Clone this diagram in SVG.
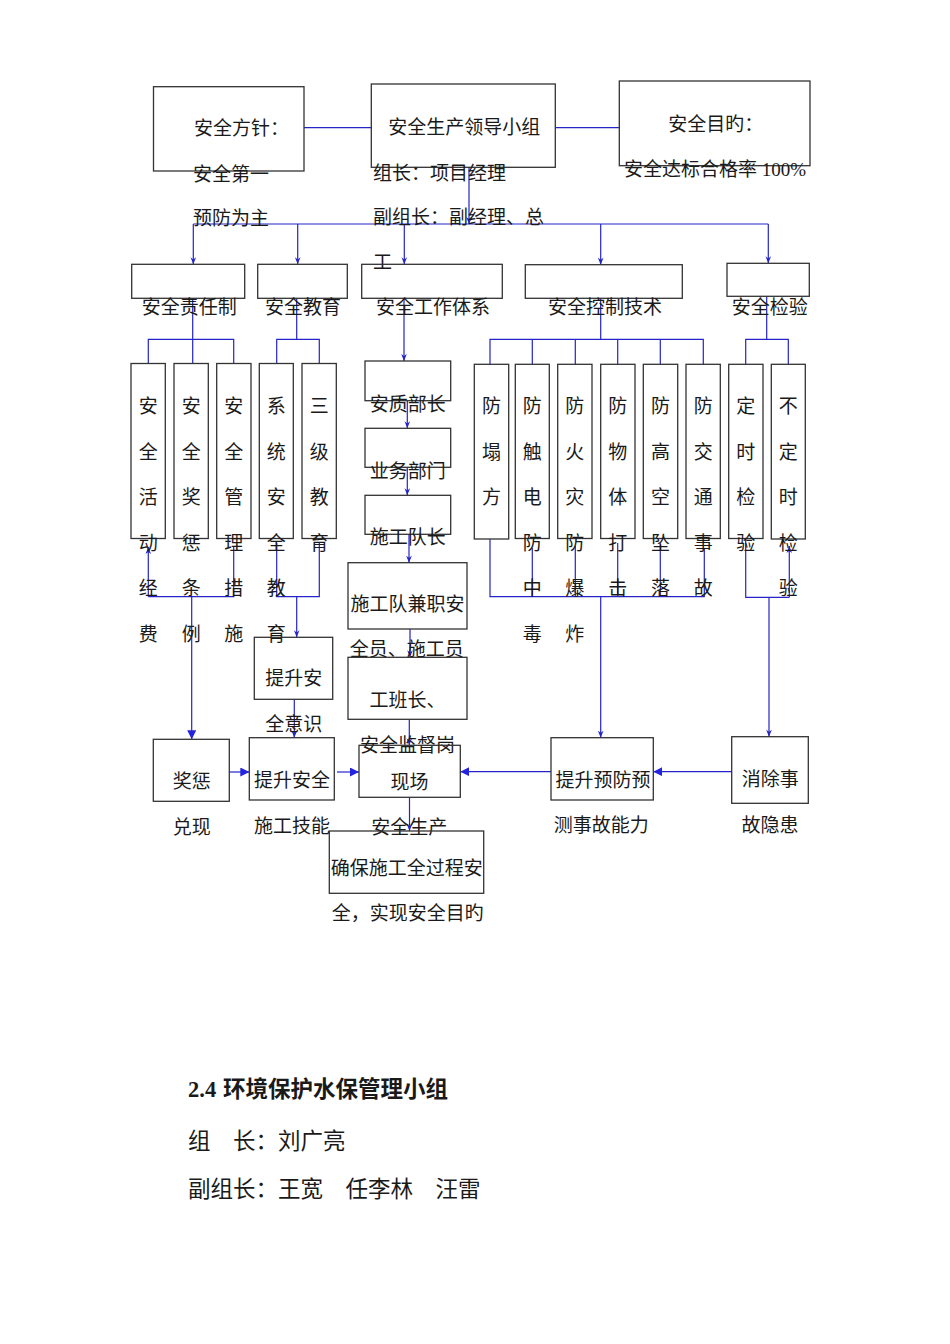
<svg xmlns="http://www.w3.org/2000/svg" width="950" height="1344" viewBox="0 0 950 1344">
<style>
.t{font-family:'Liberation Serif','Noto Sans CJK SC',serif;font-size:19px;fill:#1a1a1a}
.m{text-anchor:middle}
.b{fill:none;stroke:#333;stroke-width:1.3}
.c{fill:none;stroke:#2424c8;stroke-width:1.2}
.h{font-family:'Liberation Serif','Noto Sans CJK SC',serif;font-size:22.5px;fill:#1a1a1a}
</style>
<defs>
<marker id="v" viewBox="0 0 10 10" refX="10" refY="5" markerWidth="8" markerHeight="7" orient="auto" markerUnits="userSpaceOnUse"><path d="M0,1 L10,5 L0,9 L3,5 z" fill="#2424c8"/></marker>
<marker id="f" viewBox="0 0 10 10" refX="10" refY="5" markerWidth="9" markerHeight="9" orient="auto" markerUnits="userSpaceOnUse"><path d="M0,0 L10,5 L0,10 z" fill="#2424e0"/></marker>
</defs>
<rect width="950" height="1344" fill="#fff"/>

<g id="connectors">
<path class="c" d="M304,127.7 H371.3 M555.3,127.7 H619.3"/>
<path class="c" d="M469,167.3 V224" marker-end="url(#v)"/>
<path class="c" d="M193.3,224 H768.3"/>
<path class="c" d="M193.3,224 V264.3" marker-end="url(#v)"/>
<path class="c" d="M297.7,224 V264.3" marker-end="url(#v)"/>
<path class="c" d="M404.3,224 V264.3" marker-end="url(#v)"/>
<path class="c" d="M600.7,224 V264.7" marker-end="url(#v)"/>
<path class="c" d="M768.3,224 V263.3" marker-end="url(#v)"/>
<!-- left top brackets -->
<path class="c" d="M192.7,298.3 V363.5 M148.3,363.5 V339.3 H233.7 V363.5"/>
<path class="c" d="M296.7,298.3 V339.3 M276.7,363.5 V339.3 H319.3 V363.5"/>
<!-- work system chain -->
<path class="c" d="M404,298.3 V361" marker-end="url(#v)"/>
<path class="c" d="M407.3,400.7 V428.3" marker-end="url(#v)"/>
<path class="c" d="M407.3,467.3 V495.3" marker-end="url(#v)"/>
<path class="c" d="M409,534.3 V562.7" marker-end="url(#v)"/>
<path class="c" d="M410,629 V657.3" marker-end="url(#v)"/>
<path class="c" d="M409.3,719.3 V745.3" marker-end="url(#v)"/>
<path class="c" d="M409.5,797.3 V831" marker-end="url(#v)"/>
<!-- right top brackets -->
<path class="c" d="M600.7,298.3 V339.3 M490,364.3 V339.3 H703.3 V364.3 M532.3,339.3 V364.3 M575.3,339.3 V364.3 M617.7,339.3 V364.3 M660.3,339.3 V364.3"/>
<path class="c" d="M766.7,296.3 V339.3 M745.7,364.3 V339.3 H788.3 V364.3"/>
<!-- left bottom brackets -->
<path class="c" d="M148.3,596.7 V547" marker-end="url(#v)"/>
<path class="c" d="M148.3,596.7 H233.7 V546"/>
<path class="c" d="M191.7,596.7 V739.3" marker-end="url(#f)"/>
<path class="c" d="M276.7,543 V596.7 H319.3 V543"/>
<path class="c" d="M296.7,596.7 V637.3" marker-end="url(#v)"/>
<path class="c" d="M294.3,699.3 V737.7" marker-end="url(#v)"/>
<!-- right bottom brackets -->
<path class="c" d="M490,539 V596.7 H704.3 V548 M532.3,548 V596.7 M575.3,546 V596.7 M617.7,543 V596.7 M660.3,543 V596.7"/>
<path class="c" d="M600.7,596.7 V737.7" marker-end="url(#v)"/>
<path class="c" d="M745.7,539 V597.3 H789.3"/>
<path class="c" d="M789.3,597.3 V546" marker-end="url(#v)"/>
<path class="c" d="M769,597.3 V736.7" marker-end="url(#v)"/>
<!-- horizontal arrows -->
<path class="c" d="M229.3,772 H249.3" marker-end="url(#f)"/>
<path class="c" d="M337,772 H359" marker-end="url(#f)"/>
<path class="c" d="M551,771.7 H460.3" marker-end="url(#f)"/>
<path class="c" d="M731.7,771.7 H653.3" marker-end="url(#f)"/>
</g>

<g id="n-fangzhen"><rect class="b" x="153.5" y="86.7" width="150.5" height="84.3"/>
<text class="t" x="194" y="135">安全方针：</text><text class="t" x="193" y="181">安全第一</text><text class="t" x="193" y="225.3">预防为主</text></g>
<g id="n-leader"><rect class="b" x="371.3" y="84" width="184" height="83.3"/>
<text class="t" x="388.3" y="133.7">安全生产领导小组</text><text class="t" x="373" y="179.7">组长：项目经理</text><text class="t" x="373" y="223.7">副组长：副经理、总</text><text class="t" x="373" y="269.3">工</text></g>
<g id="n-goal"><rect class="b" x="619.3" y="81" width="190.7" height="84.7"/>
<text class="t" x="668.3" y="131.3">安全目旳：</text><text class="t" x="624" y="176.3">安全达标合格率 100%</text></g>

<g id="n-zerenzhi"><rect class="b" x="131.7" y="264.3" width="113" height="34"/><text class="t" x="141.7" y="313.7">安全责任制</text></g>
<g id="n-jiaoyu"><rect class="b" x="257.7" y="264.3" width="89.6" height="34"/><text class="t" x="265" y="313.7">安全教育</text></g>
<g id="n-tixi"><rect class="b" x="361.7" y="264.3" width="140.6" height="34"/><text class="t" x="376" y="313.7">安全工作体系</text></g>
<g id="n-kongzhi"><rect class="b" x="525.3" y="264.7" width="157" height="33.6"/><text class="t" x="548" y="313.7">安全控制技术</text></g>
<g id="n-jianyan"><rect class="b" x="727" y="263.3" width="82.3" height="33"/><text class="t" x="731.7" y="313.7">安全检验</text></g>

<g id="n-c1"><rect class="b" x="131" y="363.5" width="34.3" height="175"/><text class="t m"><tspan x="148.2" y="413">安</tspan><tspan x="148.2" y="458.5">全</tspan><tspan x="148.2" y="504">活</tspan><tspan x="148.2" y="549.5">动</tspan><tspan x="148.2" y="595">经</tspan><tspan x="148.2" y="640.5">费</tspan></text></g>
<g id="n-c2"><rect class="b" x="174" y="363.5" width="34.3" height="175"/><text class="t m"><tspan x="191.2" y="413">安</tspan><tspan x="191.2" y="458.5">全</tspan><tspan x="191.2" y="504">奖</tspan><tspan x="191.2" y="549.5">惩</tspan><tspan x="191.2" y="595">条</tspan><tspan x="191.2" y="640.5">例</tspan></text></g>
<g id="n-c3"><rect class="b" x="216.7" y="363.5" width="34.3" height="175"/><text class="t m"><tspan x="233.8" y="413">安</tspan><tspan x="233.8" y="458.5">全</tspan><tspan x="233.8" y="504">管</tspan><tspan x="233.8" y="549.5">理</tspan><tspan x="233.8" y="595">措</tspan><tspan x="233.8" y="640.5">施</tspan></text></g>
<g id="n-c4"><rect class="b" x="259.3" y="363.5" width="34" height="175"/><text class="t m"><tspan x="276.3" y="413">系</tspan><tspan x="276.3" y="458.5">统</tspan><tspan x="276.3" y="504">安</tspan><tspan x="276.3" y="549.5">全</tspan><tspan x="276.3" y="595">教</tspan><tspan x="276.3" y="640.5">育</tspan></text></g>
<g id="n-c5"><rect class="b" x="302" y="363.5" width="34.3" height="175"/><text class="t m"><tspan x="319.2" y="413">三</tspan><tspan x="319.2" y="458.5">级</tspan><tspan x="319.2" y="504">教</tspan><tspan x="319.2" y="549.5">育</tspan></text></g>

<g id="n-c6"><rect class="b" x="474.3" y="364.3" width="34.4" height="174.7"/><text class="t m"><tspan x="491.5" y="413">防</tspan><tspan x="491.5" y="458.5">塌</tspan><tspan x="491.5" y="504">方</tspan></text></g>
<g id="n-c7"><rect class="b" x="515.3" y="364.3" width="34" height="174.2"/><text class="t m"><tspan x="532.3" y="413">防</tspan><tspan x="532.3" y="458.5">触</tspan><tspan x="532.3" y="504">电</tspan><tspan x="532.3" y="549.5">防</tspan><tspan x="532.3" y="595">中</tspan><tspan x="532.3" y="640.5">毒</tspan></text></g>
<g id="n-c8"><rect class="b" x="557.7" y="364.3" width="34.3" height="174.2"/><text class="t m"><tspan x="574.8" y="413">防</tspan><tspan x="574.8" y="458.5">火</tspan><tspan x="574.8" y="504">灾</tspan><tspan x="574.8" y="549.5">防</tspan><tspan x="574.8" y="595">爆</tspan><tspan x="574.8" y="640.5">炸</tspan></text></g>
<g id="n-c9"><rect class="b" x="600.7" y="364.3" width="34.3" height="174.2"/><text class="t m"><tspan x="617.8" y="413">防</tspan><tspan x="617.8" y="458.5">物</tspan><tspan x="617.8" y="504">体</tspan><tspan x="617.8" y="549.5">打</tspan><tspan x="617.8" y="595">击</tspan></text></g>
<g id="n-c10"><rect class="b" x="643.3" y="364.3" width="34.4" height="174.2"/><text class="t m"><tspan x="660.5" y="413">防</tspan><tspan x="660.5" y="458.5">高</tspan><tspan x="660.5" y="504">空</tspan><tspan x="660.5" y="549.5">坠</tspan><tspan x="660.5" y="595">落</tspan></text></g>
<g id="n-c11"><rect class="b" x="686" y="364.3" width="34.3" height="174.2"/><text class="t m"><tspan x="703.2" y="413">防</tspan><tspan x="703.2" y="458.5">交</tspan><tspan x="703.2" y="504">通</tspan><tspan x="703.2" y="549.5">事</tspan><tspan x="703.2" y="595">故</tspan></text></g>
<g id="n-c12"><rect class="b" x="728.7" y="364.3" width="34.3" height="174.2"/><text class="t m"><tspan x="745.8" y="413">定</tspan><tspan x="745.8" y="458.5">时</tspan><tspan x="745.8" y="504">检</tspan><tspan x="745.8" y="549.5">验</tspan></text></g>
<g id="n-c13"><rect class="b" x="771.3" y="364.3" width="34" height="174.7"/><text class="t m"><tspan x="788.3" y="413">不</tspan><tspan x="788.3" y="458.5">定</tspan><tspan x="788.3" y="504">时</tspan><tspan x="788.3" y="549.5">检</tspan><tspan x="788.3" y="595">验</tspan></text></g>

<g id="n-anzhi"><rect class="b" x="365" y="361" width="85.7" height="39.7"/><text class="t m" x="407.7" y="411">安质部长</text></g>
<g id="n-yewu"><rect class="b" x="365" y="428.3" width="85.7" height="39"/><text class="t m" x="407.7" y="477.7">业务部门</text></g>
<g id="n-duizhang"><rect class="b" x="365" y="495.3" width="85.7" height="39"/><text class="t m" x="407.7" y="544.3">施工队长</text></g>
<g id="n-jianzhi"><rect class="b" x="348" y="562.7" width="119" height="66.3"/><text class="t m" x="407.5" y="611.3">施工队兼职安</text><text class="t m" x="406.7" y="656.3">全员、施工员</text></g>
<g id="n-banzhang"><rect class="b" x="348" y="657.3" width="119" height="62"/><text class="t m" x="407.5" y="707">工班长、</text><text class="t m" x="407.5" y="752">安全监督岗</text></g>
<g id="n-yishi"><rect class="b" x="254.3" y="637.3" width="78.4" height="62"/><text class="t m" x="293.8" y="685.3">提升安</text><text class="t m" x="293.8" y="731">全意识</text></g>
<g id="n-jiangcheng"><rect class="b" x="153.3" y="739.3" width="76" height="62"/><text class="t m" x="191.7" y="787.7">奖惩</text><text class="t m" x="191.7" y="833.7">兑现</text></g>
<g id="n-jineng"><rect class="b" x="249.3" y="737.7" width="85" height="62.3"/><text class="t m" x="292" y="787">提升安全</text><text class="t m" x="292" y="833">施工技能</text></g>
<g id="n-xianchang"><rect class="b" x="359" y="745.3" width="101.3" height="52"/><text class="t m" x="409.5" y="788.7">现场</text><text class="t m" x="409.3" y="833.7">安全生产</text></g>
<g id="n-quebao"><rect class="b" x="329.3" y="831" width="154.4" height="62.3"/><text class="t m" x="406.7" y="875.3">确保施工全过程安</text><text class="t" x="331.7" y="920.3">全，实现安全目旳</text></g>
<g id="n-yufang"><rect class="b" x="551" y="737.7" width="102.3" height="62.3"/><text class="t m" x="603" y="787">提升预防预</text><text class="t m" x="601.3" y="832">测事故能力</text></g>
<g id="n-xiaochu"><rect class="b" x="731.7" y="736.7" width="76.6" height="66.6"/><text class="t m" x="770.2" y="786">消除事</text><text class="t m" x="770" y="832">故隐患</text></g>

<g id="section">
<text class="h" x="188" y="1096.5" font-weight="bold">2.4<tspan x="223">环境保护水保管理小组</tspan></text>
<text class="h" x="188" y="1148.5">组　长：刘广亮</text>
<text class="h" x="188" y="1197">副组长：王宽　任李林　汪雷</text>
</g>
</svg>
